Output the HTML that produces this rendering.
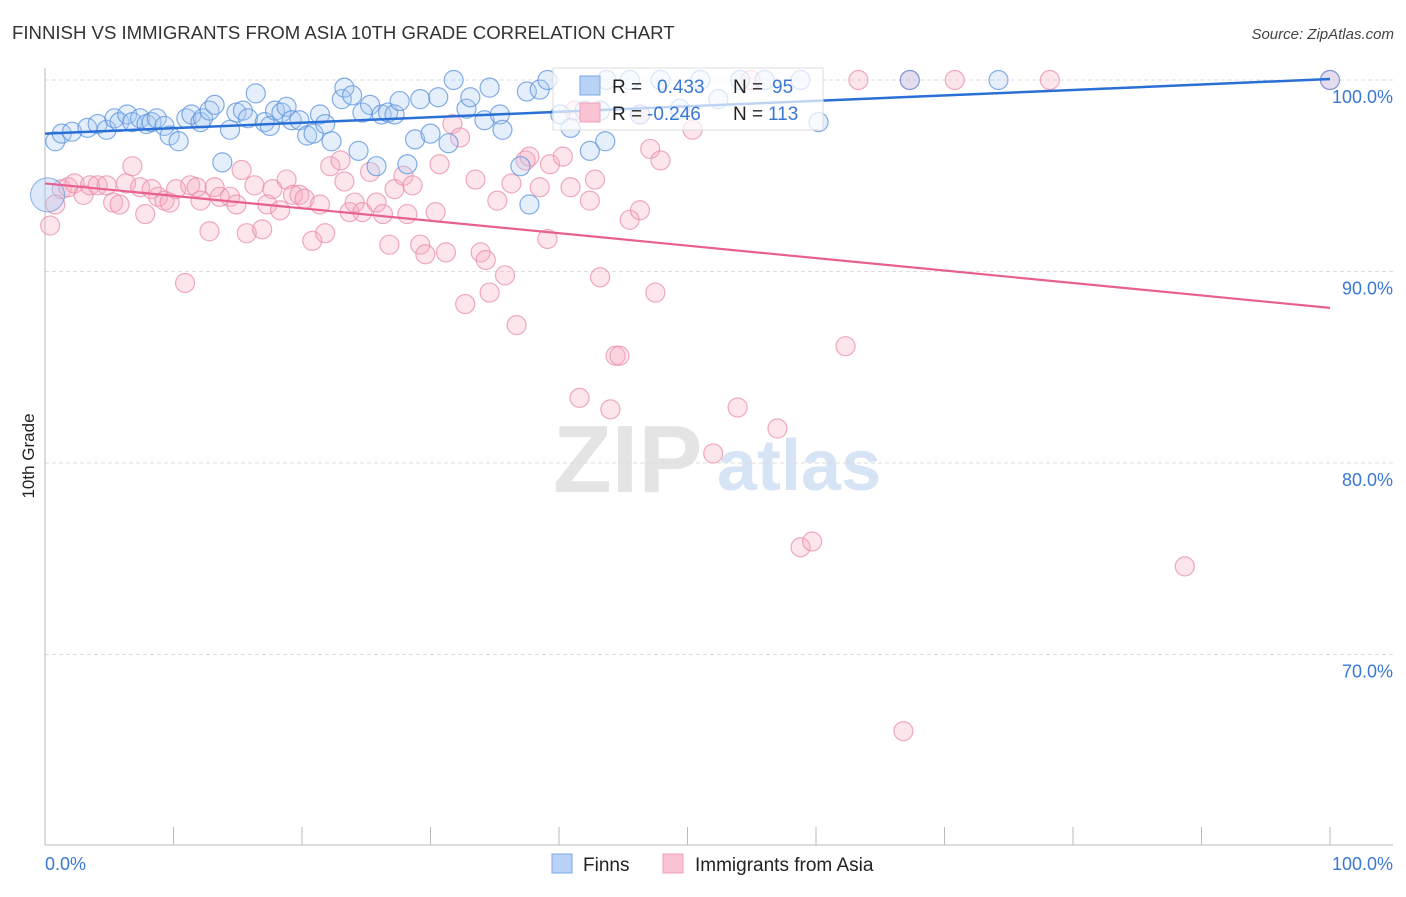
<!DOCTYPE html>
<html><head><meta charset="utf-8"><style>
body{margin:0;background:#fff;font-family:"Liberation Sans",sans-serif;}
svg text{font-family:"Liberation Sans",sans-serif;}
</style></head><body>
<svg id="chart" width="1406" height="892" xmlns="http://www.w3.org/2000/svg">
<text x="12" y="39" font-size="18.6" fill="#333">FINNISH VS IMMIGRANTS FROM ASIA 10TH GRADE CORRELATION CHART</text>
<text x="1394" y="39" font-size="15" font-style="italic" fill="#444" text-anchor="end">Source: ZipAtlas.com</text>
<g>
<text x="553" y="492" font-size="96" font-family="Liberation Serif" fill="#e4e4e4" font-weight="bold">ZIP</text>
<text x="717" y="490" font-size="72" fill="#d6e4f5" font-weight="bold">atlas</text>
</g>
<g id="grid"></g>
<g id="axes"></g>
<g id="pts"></g>
<g id="trend"></g>
<g>
<rect x="553" y="68" width="270" height="62" fill="#fff" fill-opacity="0.7" stroke="#ddd"/>
<rect x="580" y="76" width="20" height="19" fill="#b8d3f5" stroke="#7aa8e6"/>
<rect x="580" y="103" width="20" height="19" fill="#f9c3d3" stroke="#f0a0b8"/>
<text x="612" y="93" font-size="19" fill="#222">R =</text>
<text x="657" y="93" font-size="19" fill="#3a78d4">0.433</text>
<text x="733" y="93" font-size="19" fill="#222">N =</text>
<text x="772" y="93" font-size="19" fill="#3a78d4">95</text>
<text x="612" y="120" font-size="19" fill="#222">R =</text>
<text x="647" y="120" font-size="19" fill="#3a78d4">-0.246</text>
<text x="733" y="120" font-size="19" fill="#222">N =</text>
<text x="768" y="120" font-size="19" fill="#3a78d4">113</text>
</g>
<g>
<rect x="552" y="854" width="20" height="19" fill="#b8d3f5" stroke="#7aa8e6"/>
<text x="583" y="871" font-size="19" fill="#222">Finns</text>
<rect x="663" y="854" width="20" height="19" fill="#f9c3d3" stroke="#f0a0b8"/>
<text x="695" y="871" font-size="19" fill="#222">Immigrants from Asia</text>
</g>
<text transform="translate(34,456) rotate(-90)" font-size="17" fill="#222" text-anchor="middle">10th Grade</text>
</svg>
<script>
const yTicks=[100,90,80,70];
const yTickLabels=["100.0%","90.0%","80.0%","70.0%"];
const xTickLabels=["0.0%","100.0%"];
const finnsX=[0.8,1.3,2.1,3.3,4.1,4.8,5.4,5.8,6.4,6.8,7.4,7.9,8.3,8.7,9.3,9.7,10.4,11.0,11.4,12.1,12.3,12.8,13.2,13.8,14.4,14.9,15.4,15.8,16.4,17.1,17.5,17.9,18.4,18.8,19.2,19.8,20.4,20.9,21.4,21.8,22.3,23.1,23.3,23.9,24.4,24.7,25.3,25.8,26.2,26.7,27.2,27.6,28.2,28.8,29.2,30.0,30.6,31.4,31.8,32.8,33.1,34.2,34.6,35.4,35.6,37.0,37.5,37.7,38.5,39.1,40.1,40.9,42.0,42.4,43.6,43.7,45.5,47.9,51.0,52.4,54.1,56.0,58.8,60.2,67.3,74.2,100,43.2,46.3,49.4];
const finnsY=[96.8,97.2,97.3,97.5,97.7,97.4,98.0,97.8,98.2,97.8,98.0,97.7,97.8,98.0,97.6,97.1,96.8,98.0,98.2,97.8,98.0,98.4,98.7,95.7,97.4,98.3,98.4,98.0,99.3,97.8,97.6,98.4,98.3,98.6,97.9,97.9,97.1,97.2,98.2,97.7,96.8,99.0,99.6,99.2,96.3,98.3,98.7,95.5,98.2,98.3,98.2,98.9,95.6,96.9,99.0,97.2,99.1,96.7,100,98.5,99.1,97.9,99.6,98.2,97.4,95.5,99.4,93.5,99.5,100,98.2,97.5,98.4,96.3,96.8,100,100,100,100,99.0,100,100,100,97.8,100,100,100,98.4,98.2,98.5];
const asiaX=[0.4,0.8,1.3,1.8,2.3,3.0,3.5,4.1,4.8,5.3,5.8,6.3,6.8,7.4,7.8,8.3,8.8,9.3,9.7,10.2,10.9,11.3,11.8,12.1,12.8,13.2,13.6,14.4,14.9,15.3,15.7,16.3,16.9,17.3,17.7,18.3,18.8,19.3,19.8,20.2,20.8,21.4,21.8,22.2,23.0,23.3,23.7,24.1,24.7,25.3,25.8,26.3,26.8,27.2,27.9,28.2,28.6,29.2,29.6,30.4,30.7,31.2,31.7,32.3,32.7,33.5,33.9,34.3,34.6,35.2,35.8,36.3,36.7,37.4,37.7,38.5,39.1,39.3,40.3,40.9,41.6,42.4,42.8,43.2,44.0,44.4,44.7,45.5,46.3,47.1,47.5,47.9,50.4,52.0,53.9,54.9,57.0,58.8,59.7,62.3,63.3,67.3,70.8,78.2,88.7,66.8,100,41.2,46.3];
const asiaY=[92.4,93.5,94.3,94.4,94.6,94.0,94.5,94.5,94.5,93.6,93.5,94.6,95.5,94.4,93.0,94.3,93.9,93.7,93.6,94.3,89.4,94.5,94.4,93.7,92.1,94.4,93.9,93.9,93.5,95.3,92.0,94.5,92.2,93.5,94.3,93.2,94.8,94.0,94.0,93.8,91.6,93.5,92.0,95.5,95.8,94.7,93.1,93.6,93.1,95.2,93.6,93.0,91.4,94.3,95.0,93.0,94.5,91.4,90.9,93.1,95.6,91.0,97.7,97.0,88.3,94.8,91.0,90.6,88.9,93.7,89.8,94.6,87.2,95.8,96.0,94.4,91.7,95.6,96.0,94.4,83.4,93.7,94.8,89.7,82.8,85.6,85.6,92.7,93.2,96.4,88.9,95.8,97.4,80.5,82.9,100,81.8,75.6,75.9,86.1,100,100,100,100,74.6,66.0,100,98.4,98.2];
const finnsTrend=[97.2,100.05];
const asiaTrend=[94.6,88.1];
const trendX=[0,100];
const NS='http://www.w3.org/2000/svg';
const X=v=>45+v*12.85;
const Y=v=>80+(100-v)*19.15;
function mk(tag,attrs,parent){const e=document.createElementNS(NS,tag);for(const k in attrs)e.setAttribute(k,attrs[k]);parent.appendChild(e);return e;}
const grid=document.getElementById('grid'),axes=document.getElementById('axes'),pts=document.getElementById('pts'),trend=document.getElementById('trend');
yTicks.forEach((t,i)=>{
 const l=mk('line',{x1:45,x2:1393,y1:Y(t),y2:Y(t),stroke:'#ddd','stroke-dasharray':'4,3'},grid);
 
 
 const tx=mk('text',{x:1393,y:Y(t)+23,'font-size':18,fill:'#3a78d4','text-anchor':'end'},grid);
 tx.textContent=yTickLabels[i];
 
 
});
const ax=mk('line',{x1:45,x2:1393,y1:845,y2:845,stroke:'#bbb'},axes);


const ay=mk('line',{x1:45,x2:45,y1:68,y2:845,stroke:'#bbb'},axes);


for(let i=0;i<=10;i++){
 const t=mk('line',{x1:X(i*10),x2:X(i*10),y1:827,y2:845,stroke:'#bbb'},axes);
 
 
}
[[0,'start'],[100,'end']].forEach((p,i)=>{
 const t=mk('text',{x:i?1393:45,y:870,'font-size':18,fill:'#3a78d4','text-anchor':p[1]},axes);
 t.textContent=xTickLabels[i];
 
 
});
function dots(xs,ys,fill,stroke,name){
 xs.forEach((x,i)=>{
  const c=mk('circle',{cx:X(x),cy:Y(ys[i]),r:9.5,fill:fill,'fill-opacity':0.3,stroke:stroke,'stroke-opacity':0.75,'stroke-width':1.2},pts);
  
  
 });
}
dots(asiaX,asiaY,'#f7a8c0','#e98fab','asia-point');
dots(finnsX,finnsY,'#a9c9f2','#5b93dc','finns-point');
const big=mk('circle',{cx:X(0.2),cy:Y(94.0),r:17,fill:'#a9c9f2','fill-opacity':0.4,stroke:'#5b93dc','stroke-opacity':0.7},pts);


const tb=mk('line',{x1:X(trendX[0]),y1:Y(finnsTrend[0]),x2:X(trendX[1]),y2:Y(finnsTrend[1]),stroke:'#2a6fd6','stroke-width':2.5},trend);


const tp=mk('line',{x1:X(trendX[0]),y1:Y(asiaTrend[0]),x2:X(trendX[1]),y2:Y(asiaTrend[1]),stroke:'#e8608f','stroke-width':2.2},trend);


</script>
</body></html>
